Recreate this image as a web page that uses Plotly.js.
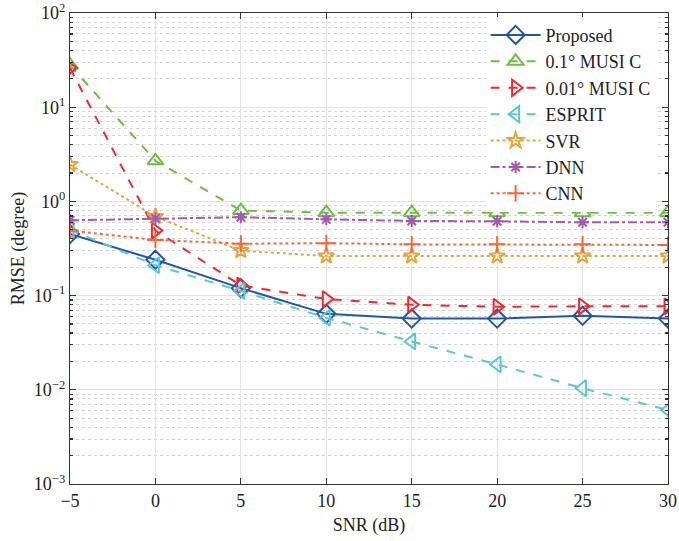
<!DOCTYPE html>
<html><head><meta charset="utf-8">
<script src="https://cdn.plot.ly/plotly-3.0.1.min.js"></script>
<style>html,body{margin:0;padding:0;background:#fff;}#plot{width:679px;height:541px;}</style>
</head><body><div id="plot"></div>
<script>
const snr = [-5, 0, 5, 10, 15, 20, 25, 30];
const proposed = [0.45, 0.24, 0.12, 0.064, 0.057, 0.057, 0.061, 0.057];
const music01 = [28, 2.7, 0.80, 0.76, 0.76, 0.76, 0.76, 0.76];
const music001 = [26, 0.49, 0.128, 0.092, 0.080, 0.076, 0.077, 0.077];
const esprit = [0.50, 0.21, 0.112, 0.058, 0.0326, 0.0186, 0.0104, 0.0061];
const svr = [2.46, 0.69, 0.30, 0.263, 0.263, 0.263, 0.263, 0.263];
const dnn = [0.63, 0.66, 0.68, 0.645, 0.62, 0.615, 0.60, 0.60];
const cnn = [0.49, 0.39, 0.355, 0.36, 0.35, 0.35, 0.35, 0.345];
const names = ['Proposed', '0.1° MUSI C', '0.01° MUSI C', 'ESPRIT', 'SVR', 'DNN', 'CNN'];
const xTicks = [-5, 0, 5, 10, 15, 20, 25, 30];
const xTickText = ['−5', '0', '5', '10', '15', '20', '25', '30'];
const yTicks = [1e-3, 1e-2, 1e-1, 1, 10, 100];
const yTickText = ['10<sup>−3</sup>', '10<sup>−2</sup>', '10<sup>−1</sup>', '10<sup>0</sup>', '10<sup>1</sup>', '10<sup>2</sup>'];

const series = [proposed, music01, music001, esprit, svr, dnn, cnn];
const colors = ['#2456A6', '#6DBE45', '#EE2A2E', '#5BC6D6', '#E8A33A', '#A459B0', '#F4683A'];
const dashes = ['solid', 'dash', 'dash', 'dash', 'dot', 'dashdot', 'dot'];
const symbols = ['diamond-open', 'triangle-up-open', 'triangle-right-open', 'triangle-left-open', 'star-open', 'asterisk-open', 'cross-thin-open'];
const sizes = [14, 14, 14, 14, 12, 10, 12];

const minorVals = [];
for (let e = -3; e < 2; e++) for (let m = 2; m <= 9; m++) minorVals.push(m * Math.pow(10, e));

const traces = series.map((s, i) => ({
  x: snr, y: s, name: names[i], type: 'scatter', mode: 'lines+markers',
  line: {color: colors[i], width: 2, dash: dashes[i]},
  marker: {symbol: symbols[i], size: sizes[i], color: colors[i], line: {color: colors[i], width: 2}}
}));

const font = {family: '"Liberation Serif", "Times New Roman", serif', color: '#222'};
const layout = {
  width: 679, height: 541,
  margin: {l: 70, r: 11, t: 13, b: 57},
  paper_bgcolor: '#fff', plot_bgcolor: '#fff',
  font: Object.assign({size: 18}, font),
  showlegend: true,
  legend: {x: 0.695, y: 0.992, xanchor: 'left', yanchor: 'top', bgcolor: '#fff',
           borderwidth: 0, font: Object.assign({size: 18}, font), itemwidth: 50, tracegroupgap: 0},
  xaxis: {
    range: [-5, 30], tickvals: xTicks, ticktext: xTickText, ticks: 'inside', ticklen: 6, tickwidth: 1.2,
    tickcolor: '#333', showline: true, linecolor: '#333', linewidth: 1.2, mirror: 'ticks',
    showgrid: true, gridcolor: '#e4e4e4', gridwidth: 1, zeroline: false, ticklabeloverflow: 'allow',
    tickfont: Object.assign({size: 18}, font),
    title: {text: 'SNR (dB)', font: Object.assign({size: 18}, font), standoff: 8}
  },
  yaxis: {
    type: 'log', range: [-3, 2], tickvals: yTicks, ticktext: yTickText, ticklabeloverflow: 'allow',
    ticks: 'inside', ticklen: 6, tickwidth: 1.2, tickcolor: '#333',
    showline: true, linecolor: '#333', linewidth: 1.2, mirror: 'ticks',
    showgrid: true, gridcolor: '#e4e4e4', gridwidth: 1, zeroline: false,
    tickfont: Object.assign({size: 18}, font),
    title: {text: 'RMSE (degree)', font: Object.assign({size: 18}, font), standoff: 4},
    minor: {tickmode: 'array', tickvals: minorVals, ticks: 'inside', ticklen: 3, tickcolor: '#333',
            showgrid: true, gridcolor: '#d4d4d4', griddash: 'dot', gridwidth: 1}
  }
};
Plotly.newPlot('plot', traces, layout, {displayModeBar: false, staticPlot: true});
</script></body></html>
